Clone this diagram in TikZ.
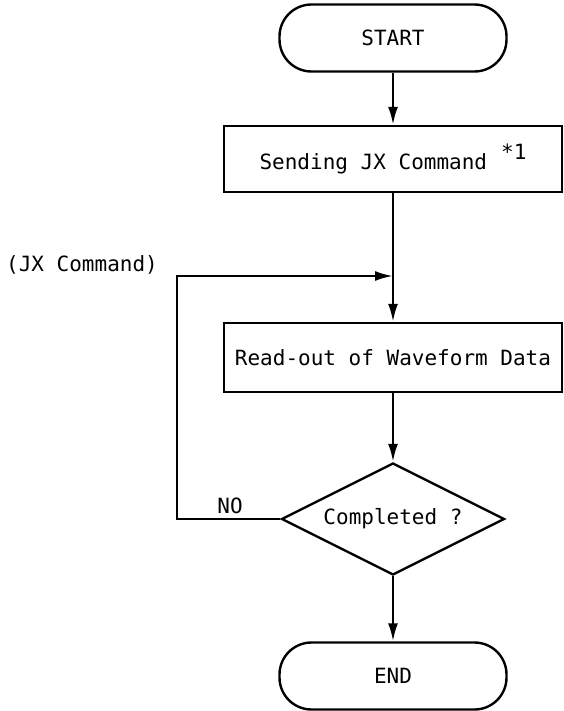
\documentclass[tikz,border=0pt]{standalone}
\usepackage{fontspec}
\usepackage{tikz}
\usetikzlibrary{arrows.meta, positioning, shapes.geometric}
\newfontfamily\plotfont{DejaVu Sans Mono}

\begin{document}
\begin{tikzpicture}[x=0.5pt, y=-0.5pt, >={Latex[length=9pt,width=5pt]}, line width=1.2pt,
    font=\plotfont\fontsize{10.5}{12}\selectfont,
    term/.style={draw, rounded corners=16pt, minimum width=113.5pt, minimum height=33.5pt},
    procbox/.style={draw, minimum width=169pt, minimum height=33pt},
    decide/.style={draw, diamond, aspect=2, inner sep=0pt, minimum width=111.5pt, minimum height=56pt}]
  \useasboundingbox (0,0) rectangle (563,711);

  % Bloky
  \node[term] (start) at (393,38) {START};
  \node[procbox] (send) at (393,159) {Sending JX Command\hspace{7pt}\raisebox{5pt}{*1}};
  \node[procbox, minimum height=34.5pt] (read) at (393,357.5) {Read-out of Waveform Data};
  \node[decide] (done) at (393,519) {Completed ?};
  \node[term] (end) at (393,676) {END};

  % Popisky
  \node (jx) at (82,265) {(JX Command)};
  \node (no) at (230,506) {NO};

  % Spoje
  \coordinate (join) at (393,276);
  \coordinate (corner) at (177,276);
  \draw[->] (start) -- (send);
  \draw[->] (send) -- (read);
  \draw[->] (read) -- (done);
  \draw[->] (done) -- (end);
  \draw[->] (done.west) -| (corner) -- (join);
\end{tikzpicture}
\end{document}
